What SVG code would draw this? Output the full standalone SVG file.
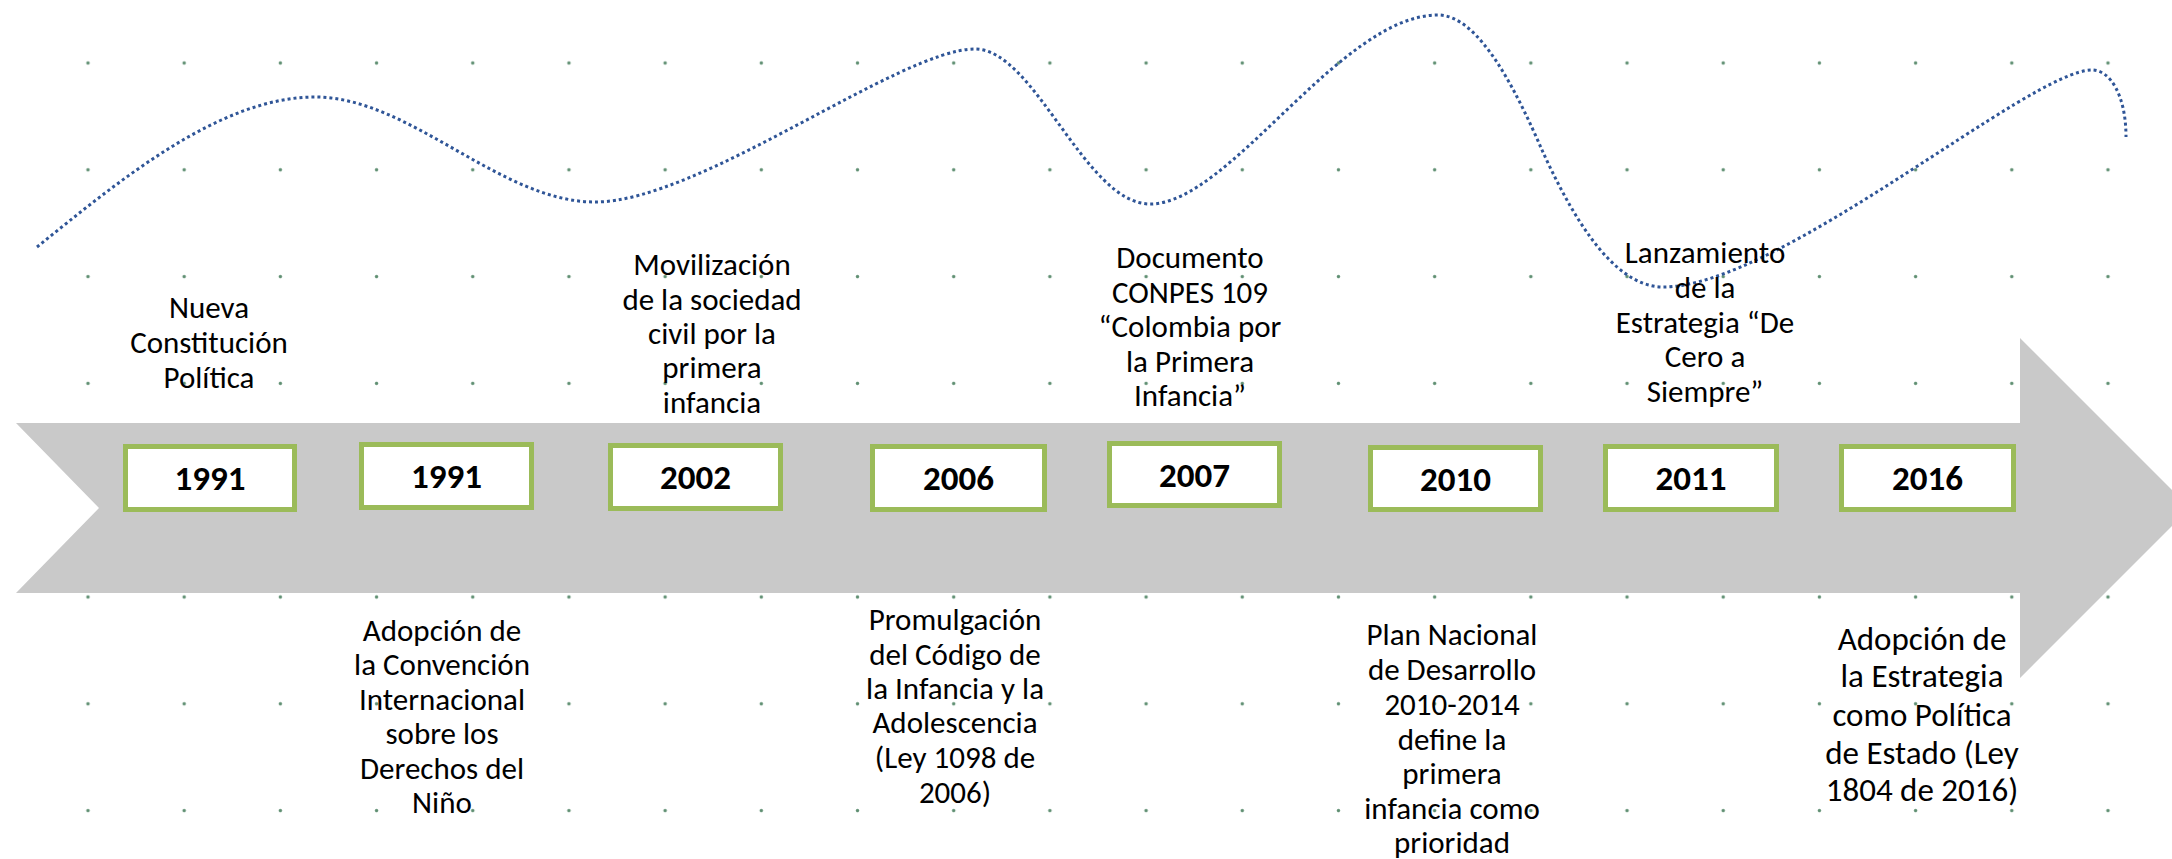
<svg xmlns="http://www.w3.org/2000/svg" width="2172" height="859" viewBox="0 0 2172 859">
  <style>
    .lbl { font-family: Carlito, Lato, "Liberation Sans", sans-serif; font-size: 31px; fill: #000; text-anchor: middle; }
    .lbl2 { font-family: Carlito, Lato, "Liberation Sans", sans-serif; font-size: 33px; fill: #000; text-anchor: middle; }
    .yr { font-family: Carlito, Lato, "Liberation Sans", sans-serif; font-size: 35px; font-weight: bold; fill: #000; text-anchor: middle; }
    .box { fill: #ffffff; stroke: #9bbb59; stroke-width: 5; }
  </style>
  <defs>
    <pattern id="dots" patternUnits="userSpaceOnUse" x="39.9" y="9.6" width="96.19" height="106.8">
      <circle cx="48.1" cy="53.4" r="1.7" fill="#5f8f72"/>
    </pattern>
  </defs>
  <rect width="2172" height="859" fill="#ffffff"/>
  <rect id="grid" x="60" y="40" width="2080" height="800" fill="url(#dots)"/>

  <g id="connectors">
    <path d="M 37,247 C 120,180 220,97 315,97 C 410,97 500,202 595,202 C 700,202 900,49 975,49 C 1035,49 1085,204 1150,204 C 1230,204 1340,15 1438,15 C 1480,15 1518,95 1542,150 C 1568,207 1610,287 1663,287 C 1780,287 2030,70 2092,70 C 2110,70 2126,95 2126,137" fill="none" stroke="#2f5597" stroke-width="3" stroke-dasharray="3 3"/>
  </g>

  <g id="timeline-arrow">
    <polygon points="16,423 2020,423 2020,338 2190,508 2020,678 2020,593 16,593 99,508" fill="#c9c9c9"/>
  </g>

  <g id="event-1991a">
    <rect class="box" x="125.5" y="446.5" width="169" height="63"/>
    <text class="yr" x="210" y="490">1991</text>
    <text class="lbl" x="209"><tspan x="209" y="318">Nueva</tspan><tspan x="209" y="353">Constitución</tspan><tspan x="209" y="388">Política</tspan></text>
  </g>

  <g id="event-1991b">
    <rect class="box" x="361.5" y="444.5" width="170" height="63"/>
    <text class="yr" x="446.5" y="488">1991</text>
    <text class="lbl"><tspan x="442" y="641">Adopción de</tspan><tspan x="442" y="675">la Convención</tspan><tspan x="442" y="710">Internacional</tspan><tspan x="442" y="744">sobre los</tspan><tspan x="442" y="779">Derechos del</tspan><tspan x="442" y="813">Niño</tspan></text>
  </g>

  <g id="event-2002">
    <rect class="box" x="610.5" y="445.5" width="170" height="63"/>
    <text class="yr" x="695.5" y="489">2002</text>
    <text class="lbl"><tspan x="712" y="275">Movilización</tspan><tspan x="712" y="310">de la sociedad</tspan><tspan x="712" y="344">civil por la</tspan><tspan x="712" y="378">primera</tspan><tspan x="712" y="413">infancia</tspan></text>
  </g>

  <g id="event-2006">
    <rect class="box" x="872.5" y="446.5" width="172" height="63"/>
    <text class="yr" x="958.5" y="490">2006</text>
    <text class="lbl"><tspan x="955" y="630">Promulgación</tspan><tspan x="955" y="665">del Código de</tspan><tspan x="955" y="699">la Infancia y la</tspan><tspan x="955" y="733">Adolescencia</tspan><tspan x="955" y="768">(Ley 1098 de</tspan><tspan x="955" y="803">2006)</tspan></text>
  </g>

  <g id="event-2007">
    <rect class="box" x="1109.5" y="443.5" width="170" height="62"/>
    <text class="yr" x="1194.5" y="486.5">2007</text>
    <text class="lbl"><tspan x="1190" y="268">Documento</tspan><tspan x="1190" y="303">CONPES 109</tspan><tspan x="1190" y="337">“Colombia por</tspan><tspan x="1190" y="372">la Primera</tspan><tspan x="1190" y="406">Infancia”</tspan></text>
  </g>

  <g id="event-2010">
    <rect class="box" x="1370.5" y="447.5" width="170" height="62"/>
    <text class="yr" x="1455.5" y="490.5">2010</text>
    <text class="lbl"><tspan x="1452" y="645">Plan Nacional</tspan><tspan x="1452" y="680">de Desarrollo</tspan><tspan x="1452" y="715">2010-2014</tspan><tspan x="1452" y="750">define la</tspan><tspan x="1452" y="784">primera</tspan><tspan x="1452" y="819">infancia como</tspan><tspan x="1452" y="853">prioridad</tspan></text>
  </g>

  <g id="event-2011">
    <rect class="box" x="1605.5" y="446.5" width="171" height="63"/>
    <text class="yr" x="1691" y="490">2011</text>
    <text class="lbl"><tspan x="1705" y="263">Lanzamiento</tspan><tspan x="1705" y="298">de la</tspan><tspan x="1705" y="333">Estrategia “De</tspan><tspan x="1705" y="367">Cero a</tspan><tspan x="1705" y="402">Siempre”</tspan></text>
  </g>

  <g id="event-2016">
    <rect class="box" x="1841.5" y="446.5" width="172" height="63"/>
    <text class="yr" x="1927.5" y="490">2016</text>
    <text class="lbl2"><tspan x="1922" y="650">Adopción de</tspan><tspan x="1922" y="687">la Estrategia</tspan><tspan x="1922" y="726">como Política</tspan><tspan x="1922" y="764">de Estado (Ley</tspan><tspan x="1922" y="801">1804 de 2016)</tspan></text>
  </g>
</svg>
